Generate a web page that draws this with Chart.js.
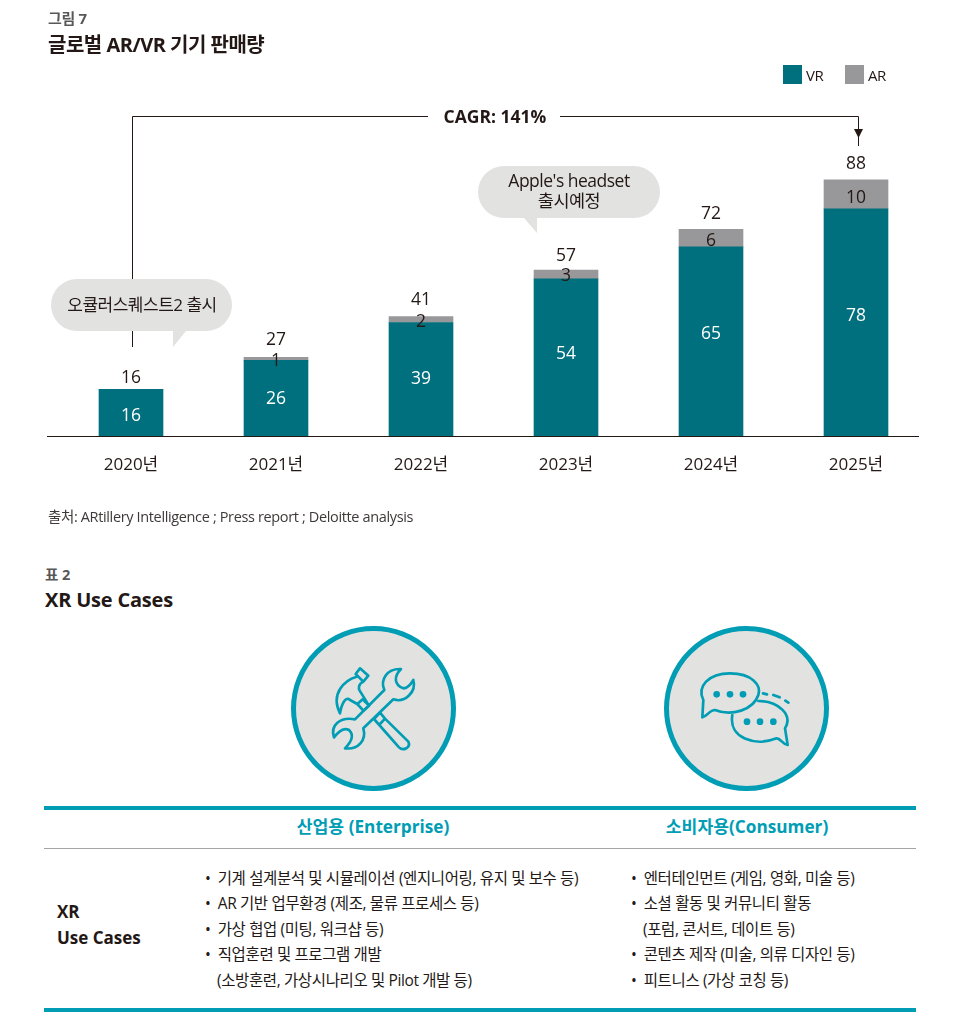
<!DOCTYPE html>
<html lang="ko"><head><meta charset="utf-8">
<style>
html,body{margin:0;padding:0;background:#fff;width:964px;height:1034px;overflow:hidden}
body{position:relative;font-family:"Open Sans","Noto Sans CJK KR",sans-serif;color:#231815}
.t{position:absolute;white-space:nowrap;line-height:1;transform:translateY(-50%)}
.bar{position:absolute;left:44px;width:872px;background:#009db5}
canvas{position:absolute;left:0;top:0}
svg{position:absolute}
.li{font-size:15.5px;letter-spacing:-.38px}
.b{font-weight:700}
.teal{color:#009db5}
.ring{position:absolute;top:626px;width:155px;height:155px;border:5px solid #009db5;border-radius:50%;background:#e2e2e0}
.ic{fill:none;stroke:#009db5;stroke-width:8;stroke-linejoin:round;stroke-linecap:round}
</style></head><body>
<canvas id="c" width="964" height="540" style="width:964px;height:540px"></canvas>
<div class="t b" style="left:48px;top:18px;font-size:15px;color:#595757;letter-spacing:-.3px">그림 7</div>
<div class="t b" style="left:48px;top:45px;font-size:20px;letter-spacing:-.5px">글로벌 AR/VR 기기 판매량</div>
<div style="position:absolute;left:783px;top:65px;width:19px;height:19px;background:#00707f"></div>
<div class="t" style="left:806px;top:75px;font-size:15px;letter-spacing:-.4px">VR</div>
<div style="position:absolute;left:845px;top:65px;width:19px;height:19px;background:#98989b"></div>
<div class="t" style="left:868px;top:75px;font-size:15px;letter-spacing:-.4px">AR</div>
<div class="t" style="left:48px;top:517px;font-size:14.5px;letter-spacing:-.36px;color:#3e3a39">출처: ARtillery Intelligence ; Press report ; Deloitte analysis</div>
<div class="t b" style="left:45px;top:575px;font-size:14.5px;color:#595757">표 2</div>
<div class="t b" style="left:45px;top:600px;font-size:20px;letter-spacing:-.2px">XR Use Cases</div>
<div class="ring" style="left:291px"></div>
<div class="ring" style="left:664px"></div>
<svg class="ic" style="left:325px;top:660px" width="100" height="100" viewBox="0 0 300 300">
<path d="M90 178L178 90C165 60 185 25 228 27C205 50 208 75 235 85C250 85 258 72 265 60C275 95 240 130 205 118L115 205C125 240 100 270 60 265C85 240 85 222 72 210C55 200 40 215 27 232C15 195 45 170 90 178Z"/>
<path d="M165 158L180 176L250 245C258 262 235 275 222 262L147 177ZM180 176L165 192"/>
<path d="M113 118L132 137L115 152L97 132Z"/>
<path d="M105 25L130 47L115 65L92 42ZM115 65C100 72 100 85 104 92L132 137M95 50C60 60 15 100 45 160C50 130 62 108 75 120L97 132"/>
</svg>
<svg class="ic" style="left:695px;top:665px" width="100" height="100" viewBox="0 0 300 300">
<path d="M22 157L25 105C5 65 40 25 105 25C170 25 200 60 190 90C175 135 110 155 60 135C45 135 37 152 22 157Z"/>
<path d="M190 108C250 108 295 150 270 190L278 240C262 238 258 220 245 220C180 245 100 220 112 150"/>
<g fill="#009db5" stroke="none"><circle cx="65" cy="88" r="10"/><circle cx="105" cy="88" r="10"/><circle cx="144" cy="88" r="10"/><circle cx="156" cy="170" r="10"/><circle cx="195" cy="170" r="10"/><circle cx="235" cy="170" r="10"/></g>
<path d="M204 85L216 88M235 90L254 97M271 107L280 113"/>
</svg>
<div class="bar" style="top:806px;height:4px"></div>
<div class="t b teal" style="left:373px;top:827px;font-size:17.2px;transform:translate(-50%,-50%)">산업용 (Enterprise)</div>
<div class="t b teal" style="left:747px;top:827px;font-size:17.2px;transform:translate(-50%,-50%)">소비자용(Consumer)</div>
<div style="position:absolute;left:44px;width:872px;top:848px;height:1px;background:#a5a5a7"></div>
<div class="t b" style="left:57px;top:911px;font-size:17px">XR</div>
<div class="t b" style="left:57px;top:937px;font-size:17px">Use Cases</div>
<div class="t li" style="left:205px;top:879px">• &nbsp;기계 설계분석 및 시뮬레이션 (엔지니어링, 유지 및 보수 등)</div>
<div class="t li" style="left:205px;top:904px">• &nbsp;AR 기반 업무환경 (제조, 물류 프로세스 등)</div>
<div class="t li" style="left:205px;top:930px">• &nbsp;가상 협업 (미팅, 워크샵 등)</div>
<div class="t li" style="left:205px;top:955px">• &nbsp;직업훈련 및 프로그램 개발</div>
<div class="t li" style="left:217px;top:981px">(소방훈련, 가상시나리오 및 Pilot 개발 등)</div>
<div class="t li" style="left:631px;top:879px">• &nbsp;엔터테인먼트 (게임, 영화, 미술 등)</div>
<div class="t li" style="left:631px;top:904px">• &nbsp;소셜 활동 및 커뮤니티 활동</div>
<div class="t li" style="left:643px;top:930px">(포럼, 콘서트, 데이트 등)</div>
<div class="t li" style="left:631px;top:955px">• &nbsp;콘텐츠 제작 (미술, 의류 디자인 등)</div>
<div class="t li" style="left:631px;top:981px">• &nbsp;피트니스 (가상 코칭 등)</div>
<div class="bar" style="top:1008px;height:4px"></div>
<script src="https://cdn.jsdelivr.net/npm/chart.js@4"></script>
<script>
const categories = ["2020년","2021년","2022년","2023년","2024년","2025년"];
const vrValues = [16,26,39,54,65,78];
const arValues = [0,1,2,3,6,10];
const totals = [16,27,41,57,72,88];
const cagrLabel = "CAGR: 141%";
const FONT = '"Open Sans","Noto Sans CJK KR",sans-serif';
const INK = "#231815";
const vrNudge = [3.5,1,0,-3.5,-7,-6];
const arNudge = [0,2,2,2,4,4];
const totalNudge = [-11.5,-17.5,-17,-14,-12.5,-16];

function bubble(ctx,x,y,w,h,tail){
  const r=h/2;
  ctx.beginPath();
  ctx.moveTo(x+r,y);
  ctx.arcTo(x+w,y,x+w,y+h,r);
  ctx.arcTo(x+w,y+h,x,y+h,r);
  ctx.lineTo(tail[0],y+h);
  ctx.lineTo(tail[1],tail[2]);
  ctx.lineTo(tail[3],y+h);
  ctx.arcTo(x,y+h,x,y,r);
  ctx.arcTo(x,y,x+w,y,r);
  ctx.closePath();
  ctx.fillStyle="#e2e2e1";
  ctx.fill();
}
const overlay = {
  id:"overlay",
  afterDraw(chart){
    const {ctx,scales:{x,y}} = chart;
    ctx.save();
    const base=y.getPixelForValue(0);
    ctx.strokeStyle=INK; ctx.lineWidth=1;
    ctx.beginPath(); ctx.moveTo(47,base+.5); ctx.lineTo(919,base+.5); ctx.stroke();
    // CAGR bracket
    ctx.beginPath();
    ctx.moveTo(132.5,347); ctx.lineTo(132.5,116.5); ctx.lineTo(428,116.5);
    ctx.moveTo(560,116.5); ctx.lineTo(858.5,116.5); ctx.lineTo(858.5,146);
    ctx.stroke();
    ctx.fillStyle=INK;
    ctx.beginPath(); ctx.moveTo(854,129); ctx.lineTo(863,129); ctx.lineTo(858.5,138); ctx.closePath(); ctx.fill();
    ctx.textAlign="center"; ctx.textBaseline="middle";
    ctx.font="700 17.5px "+FONT; ctx.fillText(cagrLabel,495,118);
    // callouts
    bubble(ctx,51,279,181,52,[186,173,347,173]);
    bubble(ctx,478,166,182,52,[537,537,233,524]);
    ctx.fillStyle=INK; ctx.font="400 17px "+FONT;
    ctx.letterSpacing="-0.5px";
    ctx.fillText("오큘러스퀘스트2 출시",142,306);
    ctx.font="400 17.5px "+FONT;
    ctx.fillText("Apple's headset",569,182);
    ctx.fillText("출시예정",569,202);
    // value labels
    ctx.font="400 17.5px "+FONT; ctx.letterSpacing="0px";
    categories.forEach((c,i)=>{
      const cx=x.getPixelForValue(i);
      const top=y.getPixelForValue(totals[i]);
      const vrTop=y.getPixelForValue(vrValues[i]);
      ctx.fillStyle="#ffffff";
      ctx.fillText(String(vrValues[i]),cx,(vrTop+base)/2+vrNudge[i]);
      if(arValues[i]>0){
        ctx.fillStyle=INK;
        ctx.fillText(String(arValues[i]),cx,(top+vrTop)/2+arNudge[i]);
      }
      ctx.fillStyle=INK;
      ctx.fillText(String(totals[i]),cx,top+totalNudge[i]);
    });
    ctx.restore();
  }
};
new Chart(document.getElementById("c"),{
  type:"bar",
  data:{labels:categories,datasets:[
    {label:"VR",data:vrValues,backgroundColor:"#00707f",stack:"s",barThickness:64},
    {label:"AR",data:arValues,backgroundColor:"#98989b",stack:"s",barThickness:64}
  ]},
  options:{
    responsive:false,animation:false,devicePixelRatio:1,
    layout:{padding:{left:58.5,right:35.5,top:144,bottom:64}},
    plugins:{legend:{display:false},tooltip:{enabled:false}},
    scales:{
      x:{stacked:true,grid:{display:false},border:{display:false},
         ticks:{color:INK,font:{family:FONT,size:17},padding:11,maxRotation:0},
         afterFit(s){s.height=40;}},
      y:{display:false,stacked:true,min:0,max:100.3}
    }
  },
  plugins:[overlay]
});
</script>
</body></html>
